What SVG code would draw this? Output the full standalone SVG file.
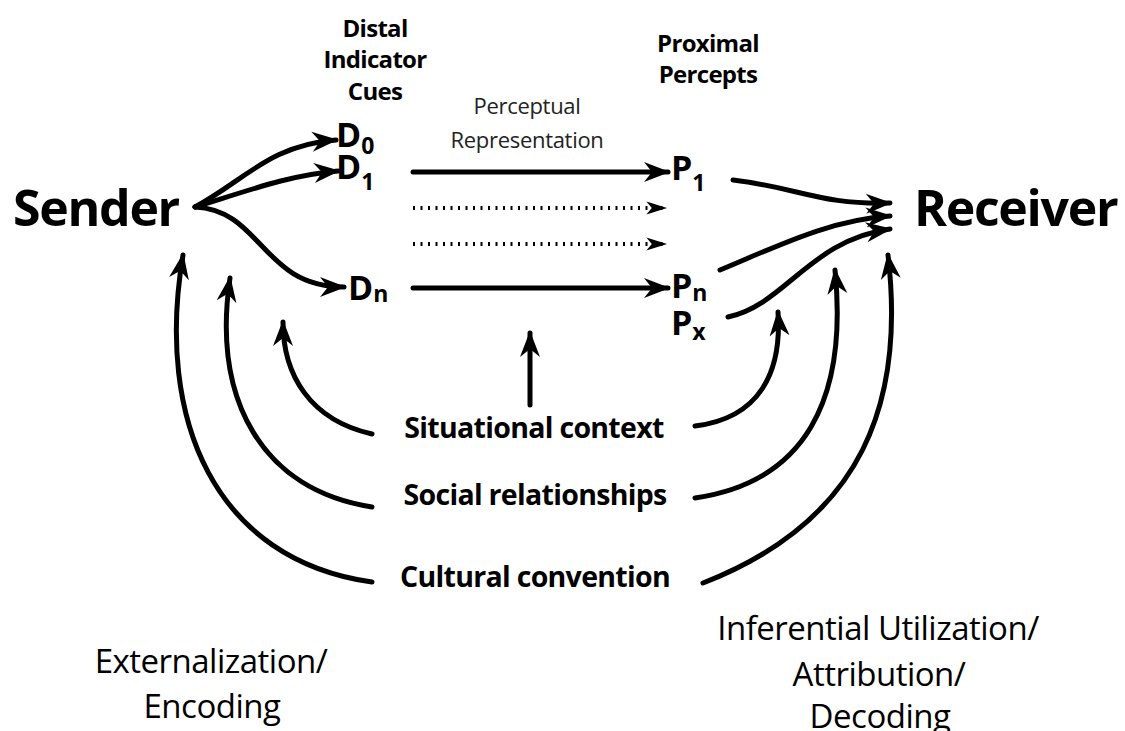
<svg xmlns="http://www.w3.org/2000/svg" width="1125" height="731" viewBox="0 0 1125 731">
<style>
.t{font-family:"Open Sans","Liberation Sans",sans-serif;fill:#000}
.big{font-size:50px;font-weight:bold;letter-spacing:-1.3px}
.hd{font-size:24px;font-weight:bold;text-anchor:middle;letter-spacing:-0.7px}
.sym{font-size:34px;font-weight:bold}
.sub{font-size:23px;font-weight:bold}
.ctx{font-size:28.5px;font-weight:bold;text-anchor:middle;letter-spacing:-0.7px}
.lbl{font-size:33px;text-anchor:middle;letter-spacing:-0.5px}
.pr{font-size:22px;text-anchor:middle;fill:#222;letter-spacing:-0.3px}
.c{fill:none;stroke:#000;stroke-width:5;stroke-linecap:round}
.d{fill:none;stroke:#000;stroke-width:4;stroke-dasharray:2 5.5}
</style>
<defs>
<marker id="ah" markerUnits="userSpaceOnUse" markerWidth="30" markerHeight="30" viewBox="-26 -12 30 24" refX="0" refY="0" orient="auto">
<path d="M2,0 L-24,-10 L-16,0 L-24,10 Z" fill="#000"/>
</marker>
<marker id="ahs" markerUnits="userSpaceOnUse" markerWidth="24" markerHeight="20" viewBox="-20 -8 22 16" refX="0" refY="0" orient="auto">
<path d="M1,0 L-18,-6 L-13,0 L-18,6 Z" fill="#000"/>
</marker>
</defs>

<g id="sender"><text class="t big" x="13" y="226">Sender</text></g>
<g id="receiver"><text class="t big" x="914" y="226">Receiver</text></g>

<g id="distal-header">
<text class="t hd" x="375" y="37">Distal</text>
<text class="t hd" x="375" y="68">Indicator</text>
<text class="t hd" x="375" y="100">Cues</text>
</g>
<g id="proximal-header">
<text class="t hd" x="708" y="52">Proximal</text>
<text class="t hd" x="708" y="83">Percepts</text>
</g>
<g id="perceptual">
<text class="t pr" x="527" y="114">Perceptual</text>
<text class="t pr" x="527" y="148">Representation</text>
</g>

<g id="D0"><text class="t sym" x="336" y="147">D<tspan class="sub" dy="7">0</tspan></text></g>
<g id="D1"><text class="t sym" x="336" y="179">D<tspan class="sub" dy="11">1</tspan></text></g>
<g id="Dn"><text class="t sym" x="348" y="300">D<tspan class="sub" dy="2">n</tspan></text></g>
<g id="P1"><text class="t sym" x="671" y="180">P<tspan class="sub" dy="11">1</tspan></text></g>
<g id="Pn"><text class="t sym" x="671" y="298">P<tspan class="sub" dy="3">n</tspan></text></g>
<g id="Px"><text class="t sym" x="671" y="335">P<tspan class="sub" dy="5">x</tspan></text></g>

<g id="situational"><text class="t ctx" x="534" y="438">Situational context</text></g>
<g id="social"><text class="t ctx" x="535" y="505">Social relationships</text></g>
<g id="cultural"><text class="t ctx" x="535" y="587">Cultural convention</text></g>

<g id="encoding">
<text class="t lbl" x="211" y="673">Externalization/</text>
<text class="t lbl" x="212" y="718">Encoding</text>
</g>
<g id="decoding">
<text class="t lbl" x="878" y="640">Inferential Utilization/</text>
<text class="t lbl" x="879" y="686">Attribution/</text>
<text class="t lbl" x="880" y="728">Decoding</text>
</g>

<g id="connectors">
<path class="c" marker-end="url(#ah)" d="M195,207 C245,180 270,145 336,140"/>
<path class="c" marker-end="url(#ah)" d="M195,207 C250,190 290,175 338,171"/>
<path class="c" marker-end="url(#ah)" d="M195,207 C262,210 262,287 344,287"/>

<path class="c" marker-end="url(#ah)" d="M413,172 L668,172"/>
<path class="d" marker-end="url(#ahs)" d="M413,208 L666,208"/>
<path class="d" marker-end="url(#ahs)" d="M413,244 L666,244"/>
<path class="c" marker-end="url(#ah)" d="M413,288 L668,288"/>

<path class="c" marker-end="url(#ah)" d="M733,180 C800,188 820,205 890,203"/>
<path class="c" marker-end="url(#ah)" d="M720,270 C780,245 830,220 890,216"/>
<path class="c" marker-end="url(#ah)" d="M728,317 C785,305 810,240 890,229"/>

<path class="c" marker-end="url(#ah)" d="M530,405 L530,333"/>

<path class="c" marker-end="url(#ah)" d="M372,434 C310,420 283,375 283,322"/>
<path class="c" marker-end="url(#ah)" d="M372,507 C262,490 212,400 230,278"/>
<path class="c" marker-end="url(#ah)" d="M372,582 C215,560 155,420 183,255"/>

<path class="c" marker-end="url(#ah)" d="M695,426 C760,418 782,372 778,312"/>
<path class="c" marker-end="url(#ah)" d="M695,498 C805,482 848,400 835,270"/>
<path class="c" marker-end="url(#ah)" d="M703,583 C865,520 905,400 888,255"/>
</g>
</svg>
